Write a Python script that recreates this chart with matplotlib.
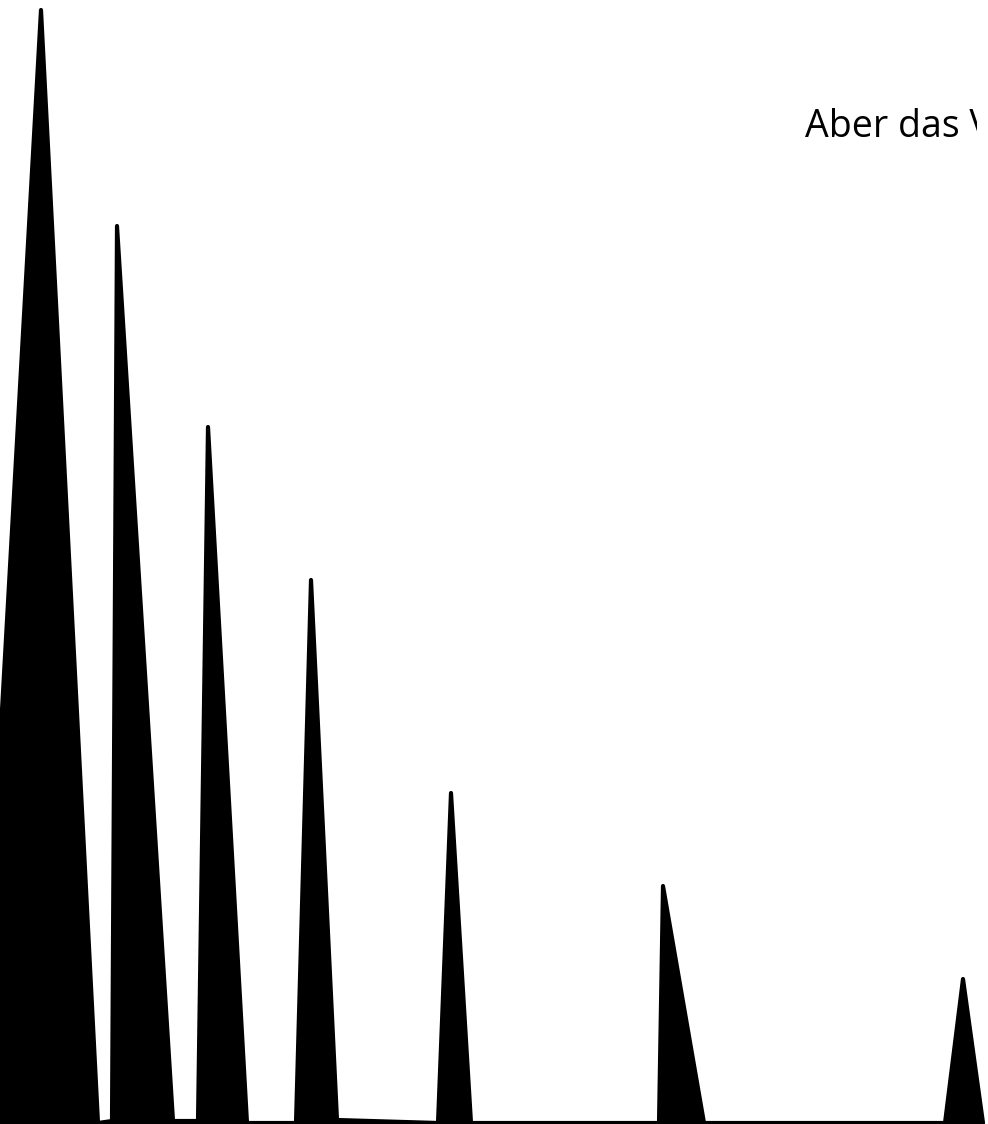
import matplotlib
matplotlib.use("Agg")
import matplotlib.pyplot as plt
from matplotlib.transforms import Bbox

# Series: alternating base / peak points of the spike line
x_values = [-21, 41, 98, 112, 117, 173, 198, 208, 247, 296, 311, 337, 438,
            451, 471, 659, 663, 704, 945, 963, 983]
y_values = [1, 1114, 1, 3, 898, 3, 3, 697, 1, 1, 544, 4, 1,
            331, 1, 1, 238, 1, 1, 145, 1]

label_text = "Aber das V"

fig = plt.figure(figsize=(9.88, 11.24), dpi=100)
ax = fig.add_axes([0, 0, 1, 1])
ax.set_xlim(0, 988)
ax.set_ylim(0, 1124)
ax.axis("off")

ax.fill_between(x_values, y_values, 0, color="black", linewidth=0)
ax.plot(x_values, y_values, color="black", linewidth=3.0,
        solid_joinstyle="round", solid_capstyle="round")

t = fig.text(805 / 988, (1124 - 137) / 1124, label_text, fontsize=27,
             family="Open Sans", color="black", ha="left", va="baseline")
t.set_clip_box(Bbox.from_extents(0, 0, 977, 1124))
t.set_clip_on(True)

fig.savefig("out.png", dpi=100, facecolor="white")
